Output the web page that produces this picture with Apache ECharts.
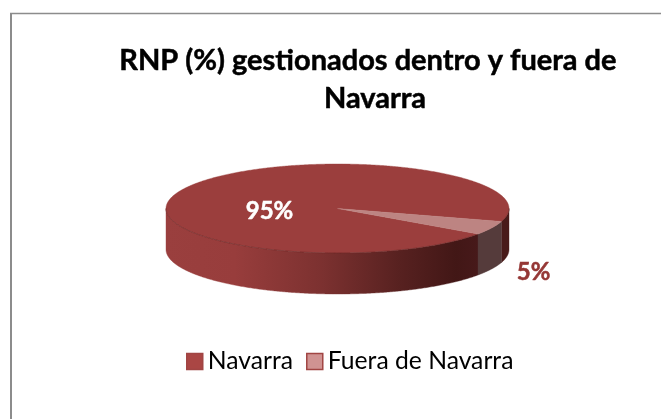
<!DOCTYPE html>
<html><head><meta charset="utf-8">
<style>html,body{margin:0;padding:0;background:#fff}#c{width:661px;height:419px}</style>
<script src="https://cdn.jsdelivr.net/npm/echarts@6/dist/echarts.min.js"></script>
</head><body><div id="c"></div>
<script>
const categories = ['Navarra', 'Fuera de Navarra'];
const values = [95, 5];
const titleLines = 'RNP (%) gestionados dentro y fuera de  \nNavarra';

const total = values.reduce((a, b) => a + b, 0);
const START_DEG = 35;              // clockwise, below the horizontal, where Navarra begins
const CX = 337.5, CY = 208.5, RX = 171.5, RY = 44.5, DEPTH = 41;
const topColors = ['#9b3e3d', '#bd8482'];
const labelColors = ['#ffffff', '#953735'];
const labelPos = [[269.5, 211], [533.5, 272]];

function pt(deg, dy) {
  const a = deg * Math.PI / 180;
  return [CX + RX * Math.cos(a), CY + RY * Math.sin(a) + (dy || 0)];
}
function arc(a0, a1, dy) {
  const n = Math.max(2, Math.ceil(Math.abs(a1 - a0) / 0.5));
  const out = [];
  for (let i = 0; i <= n; i++) out.push(pt(a0 + (a1 - a0) * i / n, dy));
  return out;
}
function wallPiece(a0, a1, fill, z) {
  const pts = arc(a0, a1, 0).concat(arc(a1, a0, DEPTH));
  return { type: 'polygon', z2: z, shape: { points: pts }, style: { fill: fill, stroke: fill, lineWidth: 0.4 } };
}
// Visible walls lie between 0 and 180 degrees (front half of the ellipse).
const wallGradient = {
  type: 'linear', x: 0, y: 0, x2: 1, y2: 0, colorStops: [
    { offset: 0, color: '#9a3f3e' }, { offset: 0.22, color: '#983d3c' },
    { offset: 0.5, color: '#7c3130' }, { offset: 0.75, color: '#572120' },
    { offset: 0.93, color: '#421716' }, { offset: 1, color: '#47191a' }]
};

function sliceSeries(idx) {
  const before = values.slice(0, idx).reduce((a, b) => a + b, 0);
  return {
    type: 'custom', name: categories[idx], coordinateSystem: 'none',
    data: [[values[idx]]],
    itemStyle: { color: idx === 0 ? '#aa4644' : '#d09392' },
    z: idx === 0 ? 2 : 3,
    silent: true,
    renderItem: function (params, api) {
      const v = api.value(0);
      const a0 = START_DEG + before / total * 360;
      const a1 = a0 + v / total * 360;
      const children = [];
      if (idx === 0) {
        // Navarra wraps past 360: its front wall is a0..180 and 360..a1
        children.push(wallPiece(a0, 180, wallGradient, 1));
        children.push(wallPiece(360, a1, '#491b1a', 1));
      } else {
        const s = a0 % 360, e = s + v / total * 360;
        children.push(wallPiece(s, e, '#553b3b', 1));
      }
      const p = arc(a0, a1, 0); p.push([CX, CY]);
      children.push({ type: 'polygon', z2: 3, shape: { points: p },
        style: { fill: topColors[idx], stroke: topColors[idx], lineWidth: 0.4 } });
      if (idx === 0) {
        children.push({ type: 'polyline', z2: 4, shape: { points: arc(0, 180, 0) },
          style: { fill: null, stroke: 'rgba(70,20,20,0.35)', lineWidth: 1 } });
      }
      children.push({ type: 'text', z2: 6, x: labelPos[idx][0], y: labelPos[idx][1],
        style: { text: Math.round(v / total * 100) + '%', fill: labelColors[idx],
          font: 'bold 24px Lato', align: 'center', verticalAlign: 'middle',
          stroke: labelColors[idx], lineWidth: 0.5 } });
      return { type: 'group', children: children };
    }
  };
}

const chart = echarts.init(document.getElementById('c'), null, { renderer: 'canvas' });
chart.setOption({
  animation: false,
  backgroundColor: '#ffffff',
  title: {
    text: titleLines, left: 370, top: 37, textAlign: 'center',
    textStyle: { fontFamily: 'Lato', fontWeight: 'bold', fontSize: 29, lineHeight: 38, color: '#000000',
      textBorderColor: '#000000', textBorderWidth: 0.5 }
  },
  legend: {
    data: categories, left: 181, top: 344, icon: 'rect', itemWidth: 16, itemHeight: 16, itemGap: 13,
    selectedMode: false,
    textStyle: { fontFamily: 'Lato', fontSize: 24.7, color: '#000000', padding: [0, 0, 0, 0] },
    itemStyle: { borderColor: '#a14543', borderWidth: 1.5 }
  },
  graphic: [
    { type: 'line', silent: true, shape: { x1: 11, y1: 13, x2: 11, y2: 419 }, style: { stroke: '#8c8c8c', lineWidth: 2 } },
    { type: 'line', silent: true, shape: { x1: 10, y1: 13.5, x2: 661, y2: 13.5 }, style: { stroke: '#8c8c8c', lineWidth: 1.6 } }
  ],
  series: [sliceSeries(0), sliceSeries(1)]
});
</script></body></html>
